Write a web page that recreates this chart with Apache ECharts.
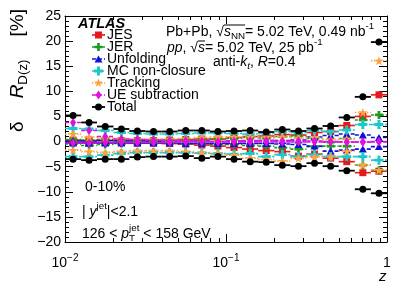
<!DOCTYPE html>
<html><head><meta charset="utf-8">
<script src="https://cdn.jsdelivr.net/npm/echarts@6/dist/echarts.min.js"></script>
<style>html,body{margin:0;padding:0;background:#fff;}#c{width:407px;height:292px;}</style>
</head><body><div id="c"></div>
<script>
// ---------------- data ----------------
const binEdges = [0.0100,0.0126,0.0158,0.0200,0.0251,0.0316,0.0398,0.0501,0.0631,0.0794,0.1000,0.1259,0.1585,0.1995,0.2512,0.3162,0.3981,0.5012,0.6310,0.7943,1.0000];
const xMinorTicks = [0.02,0.03,0.04,0.05,0.06,0.07,0.08,0.09,0.2,0.3,0.4,0.5,0.6,0.7,0.8,0.9];
const legendNames = ['JES','JER','Unfolding','MC non-closure','Tracking','UE subtraction','Total'];

const jesUp   = [0.3,0.2,0.2,0.2,0.2,0.2,0.3,0.4,0.5,0.5,0.8,1.0,1.1,1.4,1.3,1.8,2.0,3.2,5.0,9.3];
const jesDown = [-0.2,-0.2,-0.2,-0.2,-0.3,-0.3,-0.4,-0.5,-0.7,-0.9,-1.2,-1.5,-1.8,-2.0,-2.9,-2.5,-3.3,-4.0,-6.2,-5.9];
const jerUp   = [0.4,0.3,0.4,0.3,0.3,0.3,0.4,0.4,0.3,0.5,0.6,0.8,0.7,1.0,1.1,0.6,-0.1,0.6,4.3,5.3];
const jerDown = [-0.5,-0.8,-0.6,-0.4,-0.3,-0.3,-0.3,-0.4,-0.4,-0.6,-0.6,-0.8,-0.9,-1.2,-1.5,-1.0,-0.9,-0.9,-4.7,-5.7];
const unfUp   = [0.1,0.1,0.2,0.1,0.1,0.0,0.1,0.1,0.1,0.0,0.1,0.1,0.2,0.2,0.3,0.9,1.2,1.5,1.3,0.8];
const unfDown = [-0.3,-0.3,-0.3,-0.3,-0.3,-0.3,-0.3,-0.4,-0.4,-0.4,-0.4,-0.4,-0.4,-0.5,-0.6,-0.9,-1.9,-1.7,-1.5,-1.0];
const mcUp    = [2.6,2.5,2.2,1.8,1.6,1.5,1.5,1.6,1.7,1.7,1.6,1.5,1.6,2.0,1.8,2.2,2.0,2.3,3.4,3.4];
const mcDown  = [-3.0,-3.0,-2.7,-2.4,-2.2,-2.2,-2.2,-2.2,-2.3,-2.4,-2.5,-2.4,-3.0,-2.6,-3.0,-2.6,-3.0,-3.0,-3.0,-3.7];
const trkUp   = [1.5,0.9,0.7,0.6,0.5,0.5,0.5,0.6,0.8,0.9,0.9,0.9,0.9,0.9,0.7,0.8,0.4,0.5,5.8,16.1];
const trkDown = [-1.7,-2.0,-2.2,-2.0,-1.8,-1.8,-1.8,-2.0,-2.2,-2.4,-2.7,-3.3,-3.6,-3.9,-3.3,-3.0,-3.0,-1.9,-4.7,-5.7];
const ueUp    = [3.8,2.2,1.0,0.5,0.4,0.3,0.2,0.2,0.1,0.0,0.1,0.2,0.2,0.1,0.1,0.1,0.0,-0.1,-0.1,0.0];
const ueDown  = [-0.3,-0.3,-0.2,-0.2,-0.2,-0.2,-0.2,-0.1,-0.1,-0.1,-0.1,-0.1,-0.1,-0.1,-0.1,-0.1,-0.1,-0.1,-0.1,-0.1];
const totUp   = [5.2,3.8,3.0,2.5,2.1,2.0,2.0,2.2,2.2,2.0,2.1,2.2,1.9,2.4,2.1,2.6,3.1,4.8,8.9,19.8];
const totDown = [-3.5,-3.7,-3.5,-3.5,-3.1,-3.0,-3.0,-2.9,-3.3,-3.0,-3.5,-4.0,-4.1,-4.7,-4.9,-4.3,-4.9,-5.8,-9.5,-10.3];

// ---------------- styles ----------------
const FONT = '"Liberation Sans", Arial, Helvetica, sans-serif';
const crossPts = [[-0.33,-1],[0.33,-1],[0.33,-0.33],[1,-0.33],[1,0.33],[0.33,0.33],[0.33,1],[-0.33,1],[-0.33,0.33],[-1,0.33],[-1,-0.33],[-0.33,-0.33]];
const starPts = (function(){const p=[];for(let k=0;k<10;k++){const r=k%2?0.42:1;const a=-Math.PI/2+k*Math.PI/5;p.push([r*Math.cos(a),r*Math.sin(a)]);}return p;})();
const diamondPts = [[0,-1],[1,0],[0,1],[-1,0]];
const triPts = [[0,-1],[1,1],[-1,1]];

const systs = [
  {up:jesUp, down:jesDown, color:'#e41a1c', dash:null,  lw:1.6, mk:{type:'rect', w:7, h:7}},
  {up:jerUp, down:jerDown, color:'#1f9a1f', dash:[3,2], lw:1.6, mk:{type:'poly', pts:crossPts, w:8, h:8}},
  {up:unfUp, down:unfDown, color:'#1010dd', dash:[4,2], lw:1.6, mk:{type:'poly', pts:triPts, w:8, h:7}},
  {up:mcUp,  down:mcDown,  color:'#1cc8c8', dash:[5,2], lw:1.6, mk:{type:'poly', pts:crossPts, w:9, h:9}},
  {up:trkUp, down:trkDown, color:'#ffa040', dash:[1.5,1.5], lw:1.6, mk:{type:'poly', pts:starPts, w:9, h:9}},
  {up:ueUp,  down:ueDown,  color:'#e010e0', dash:[4,2], lw:1.6, mk:{type:'poly', pts:diamondPts, w:6, h:9}},
  {up:totUp, down:totDown, color:'#000000', dash:null,  lw:1.8, mk:{type:'circle', w:7, h:7}}
];

function symbolOf(mk){
  if (mk.type==='circle') return 'circle';
  if (mk.type==='rect') return 'rect';
  return 'path://M' + mk.pts.map(p=>p[0].toFixed(3)+','+p[1].toFixed(3)).join('L') + 'Z';
}

// ---------------- series ----------------
const series = [];
systs.forEach((s, si) => {
  [s.up, s.down].forEach(vals => {
    series.push({
      type:'custom', silent:true, clip:true, z:2+si,
      data: vals.map((v,i)=>[binEdges[i], binEdges[i+1], v]),
      encode:{x:[0,1], y:2},
      renderItem:(params, api)=>{
        const p1 = api.coord([api.value(0), api.value(2)]);
        const p2 = api.coord([api.value(1), api.value(2)]);
        return {type:'line', shape:{x1:p1[0],y1:p1[1],x2:p2[0],y2:p2[1]},
          style:{stroke:s.color, lineWidth:s.lw, lineDash:s.dash||null}};
      }
    });
    series.push({
      type:'scatter', silent:true, z:3+si,
      data: vals.map((v,i)=>[Math.sqrt(binEdges[i]*binEdges[i+1]), v]),
      symbol: symbolOf(s.mk), symbolSize:[s.mk.w, s.mk.h],
      itemStyle:{color:s.color, opacity:1}
    });
  });
});
// log minor ticks (2..9 per decade), bottom and top
series.push({
  type:'custom', silent:true, z:20,
  data: xMinorTicks.map(v=>[v,0]), encode:{x:0,y:1},
  renderItem:(params, api)=>{
    const cs = params.coordSys;
    const px = Math.round(api.coord([api.value(0),0])[0])+0.5;
    const b = cs.y+cs.height, t = cs.y;
    return {type:'group', children:[
      {type:'line', shape:{x1:px,y1:b,x2:px,y2:b-4}, style:{stroke:'#000',lineWidth:1}},
      {type:'line', shape:{x1:px,y1:t,x2:px,y2:t+4}, style:{stroke:'#000',lineWidth:1}}
    ]};
  }
});

// ---------------- text helpers ----------------
const mctx = document.createElement('canvas').getContext('2d');
function fstr(size,it,b){return (it?'italic ':'')+(b?'bold ':'')+size+'px '+FONT;}
function tw(t,size,it,b){mctx.font=fstr(size,it,b);return mctx.measureText(t).width;}
function txt(x,y,t,size,it,b){
  return {type:'text', x, y, silent:true, style:{text:t, fontSize:size, fontFamily:FONT,
    fontStyle:it?'italic':'normal', fontWeight:b?'bold':'normal', fill:'#000',
    align:'left', verticalAlign:'middle', textAlign:'left', textVerticalAlign:'middle'}};
}
function richRow(pieces, size){
  let x=0, ov=null; const els=[];
  for (const p of pieces){
    if (p.ovStart) ov = x;
    const parts = p.stack || [p];
    let w = 0;
    for (const q of parts){
      const s = q.sc ? size*q.sc : size;
      els.push(txt(x, (q.dy||0)*size, q.t, s, q.it, q.b));
      w = Math.max(w, tw(q.t, s, q.it, q.b));
    }
    x += w + (p.gap||0);
    if (p.ovEnd) els.push({type:'line', silent:true, shape:{x1:ov,y1:-0.5*size,x2:x,y2:-0.5*size}, style:{stroke:'#000',lineWidth:1}});
  }
  return {els, width:x};
}
function row(x,y,pieces,size){return {type:'group', x, y, children:richRow(pieces,size).els};}
const SUP = (t,it)=>({t, sc:0.7, dy:-0.4, it});
const SUB = (t,it)=>({t, sc:0.7, dy:0.3, it});

// ---------------- graphic ----------------
const graphic = [];
graphic.push(row(78, 24, [{t:'ATLAS', it:true, b:true}], 14.5));
systs.forEach((s,i)=>{
  const y = 35 + 12*i;
  graphic.push({type:'line', silent:true, shape:{x1:92,y1:y,x2:105,y2:y}, style:{stroke:s.color, lineWidth:s.lw, lineDash:s.dash||null}});
  const m = s.mk, cx = 98.5;
  if (m.type==='circle') graphic.push({type:'circle', silent:true, shape:{cx, cy:y, r:m.w/2}, style:{fill:s.color}});
  else if (m.type==='rect') graphic.push({type:'rect', silent:true, shape:{x:cx-m.w/2, y:y-m.h/2, width:m.w, height:m.h}, style:{fill:s.color}});
  else graphic.push({type:'polygon', silent:true, shape:{points:m.pts.map(p=>[cx+p[0]*m.w/2, y+p[1]*m.h/2])}, style:{fill:s.color}});
  graphic.push(txt(107, y, legendNames[i], 14));
});
graphic.push(row(166, 32, [{t:'Pb+Pb, '},{t:'√'},{t:'s', it:true, ovStart:true},{stack:[SUB('NN')], ovEnd:true},{t:'= 5.02 TeV, 0.49 nb'},{stack:[SUP('-1')]}], 14));
graphic.push(row(167, 48, [{t:'pp', it:true},{t:', '},{t:'√'},{t:'s', it:true, ovStart:true, ovEnd:true},{t:'= 5.02 TeV, 25 pb'},{stack:[SUP('-1')]}], 14));
graphic.push(row(213, 62, [{t:'anti-'},{t:'k', it:true},{stack:[SUB('t', true)]},{t:', '},{t:'R', it:true},{t:'=0.4'}], 14));
graphic.push(row(85, 187, [{t:'0-10%'}], 14));
graphic.push(row(82, 212, [{t:'| '},{t:'y', it:true},{stack:[SUP('jet')]},{t:'|<2.1'}], 14));
graphic.push(row(82, 234, [{t:'126 < '},{t:'p', it:true},{stack:[SUP('jet'), SUB('T')]},{t:' < 158 GeV'}], 14));
graphic.push(row(379, 277, [{t:'z', it:true}], 15));
// y-axis title, rotated, right-aligned to top
(function(){
  const size = 19;
  const base = [{t:'δ'},{t:'R', it:true},{stack:[SUB('D(z)')]},{t:'[%]'}];
  const w0 = richRow(base, size).width;
  const g = Math.min(26, Math.max(4, (123 - w0)/2));
  const pieces = [{t:'δ', gap:g},{t:'R', it:true},{stack:[SUB('D(z)')], gap:g},{t:'[%]'}];
  const r = richRow(pieces, size);
  graphic.push({type:'group', x:18, y:9 + r.width, rotation:Math.PI/2, children:r.els});
})();

// ---------------- axes ----------------
const axisLineStyle = {show:true, onZero:false, lineStyle:{color:'#000', width:1}};
const option = {
  animation:false,
  grid:{left:65, right:20, top:16, bottom:50},
  xAxis:[
    {type:'log', logBase:10, min:0.01, max:1, position:'bottom', axisLine:axisLineStyle,
     axisTick:{show:true, inside:true, length:8, lineStyle:{color:'#000'}}, splitLine:{show:false},
     axisLabel:{color:'#000', margin:11, formatter:(v)=>{
        if (Math.abs(v-1)<1e-9) return '{b|1}';
        const e = Math.round(Math.log10(v));
        return '{b|10}{s|' + (e<0?'−':'') + Math.abs(e) + '}';
      },
      rich:{b:{fontSize:14, fontFamily:FONT, color:'#000', lineHeight:20}, s:{fontSize:10, fontFamily:FONT, color:'#000', lineHeight:10, verticalAlign:'top'}}}},
    {type:'log', logBase:10, min:0.01, max:1, position:'top', axisLine:axisLineStyle,
     axisTick:{show:true, inside:true, length:8, lineStyle:{color:'#000'}}, splitLine:{show:false}, axisLabel:{show:false}}
  ],
  yAxis:[
    {type:'value', min:-20, max:25, interval:5, position:'left', axisLine:axisLineStyle,
     axisTick:{show:true, inside:true, length:8, lineStyle:{color:'#000'}},
     minorTick:{show:true, splitNumber:5, length:4, lineStyle:{color:'#000'}},
     splitLine:{show:false},
     axisLabel:{color:'#000', fontSize:14, fontFamily:FONT, margin:4, formatter:(v)=> v<0 ? '−'+(-v) : ''+v}},
    {type:'value', min:-20, max:25, interval:5, position:'right', axisLine:axisLineStyle,
     axisTick:{show:true, inside:true, length:8, lineStyle:{color:'#000'}},
     minorTick:{show:true, splitNumber:5, length:4, lineStyle:{color:'#000'}},
     splitLine:{show:false}, axisLabel:{show:false}}
  ],
  series,
  graphic
};
const chart = echarts.init(document.getElementById('c'), null, {renderer:'canvas'});
chart.setOption(option);
</script>
</body></html>
